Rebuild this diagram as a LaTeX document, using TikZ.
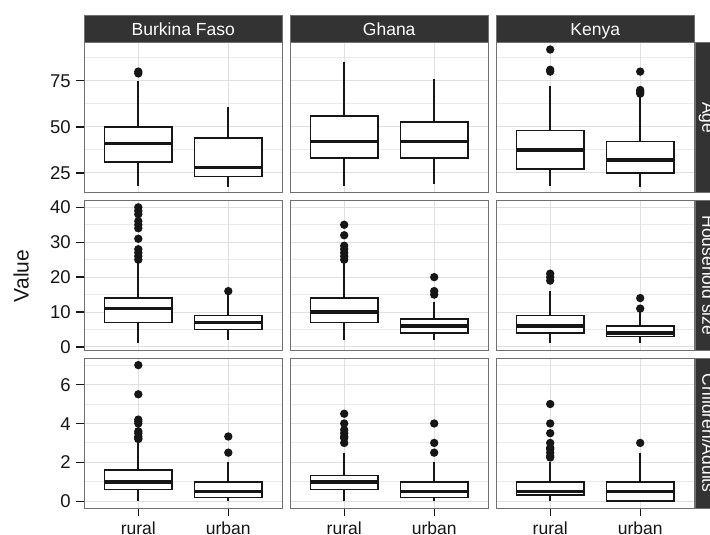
\documentclass[tikz,border=0pt]{standalone}
\usepackage{fontspec}
\setmainfont{Liberation Sans}
\definecolor{stripbg}{HTML}{333333}
\definecolor{bordc}{HTML}{707070}
\definecolor{gmaj}{HTML}{E0E0E0}
\definecolor{gmin}{HTML}{EAEAEA}
\definecolor{inkc}{HTML}{161616}
\tikzset{
  whisk/.style={line width=1.7pt, draw=inkc},
  boxst/.style={line width=1.7pt, draw=inkc, fill=white},
  medst/.style={line width=3.4pt, draw=inkc},
  outl/.style={fill=inkc},
  gminor/.style={draw=gmin, line width=1pt},
  gmajor/.style={draw=gmaj, line width=1pt},
  pborder/.style={draw=bordc, line width=1.1pt},
  tickst/.style={draw=inkc, line width=1.4pt},
  stripbox/.style={fill=stripbg, draw=bordc, line width=0.8pt},
  striptext/.style={text=white, font=\fontsize{17.5}{20}\selectfont, inner sep=0pt, text height=12.5pt, text depth=0pt},
  ylab/.style={text=inkc, font=\fontsize{18.5}{20}\selectfont, inner sep=0pt, anchor=east, text height=13.2pt, text depth=0pt},
  xlab/.style={text=inkc, font=\fontsize{17.5}{20}\selectfont, inner sep=0pt, anchor=base},
  axtitle/.style={text=inkc, font=\fontsize{21}{24}\selectfont, inner sep=0pt, text height=15pt, text depth=0pt},
}
% box: u, lower whisker, q1, median, q3, upper whisker
\newcommand\bxp[6]{%
  \draw[whisk] (#1,#2) -- (#1,#3) (#1,#5) -- (#1,#6);
  \draw[boxst] ({#1-0.375},#3) rectangle ({#1+0.375},#5);
  \draw[medst] ({#1-0.375},#4) -- ({#1+0.375},#4);}
\newcommand\outs[2]{\foreach \o in {#2} {\fill[outl] (#1,\o) circle[radius=4.2pt];}}
% panel: L, T, lo, hi, majors, minors, body
\newcommand\panel[7]{%
  \pgfmathsetmacro\sc{149.8/(#4-(#3))}%
  \pgfmathsetmacro\shy{#2+(#4)*\sc}%
  \pgfmathsetmacro\shx{#1-36}%
  \begin{scope}[shift={(\shx,\shy)},x=90pt,y=\sc pt]
    \foreach \g in {#6} {\draw[gminor] (0.4,\g) -- (2.6,\g);}
    \foreach \g in {#5} {\draw[gmajor] (0.4,\g) -- (2.6,\g);}
    \foreach \g in {1,2} {\draw[gmajor] (\g,#3) -- (\g,#4);}
    #7
    \draw[pborder] (0.4,#3) rectangle (2.6,#4);
  \end{scope}}
\begin{document}
\begin{tikzpicture}[x=1pt,y=-1pt]
\useasboundingbox (0,0) rectangle (710,535);
\clip (0,0) rectangle (710,535);

% ---------- row 1: Age ----------
\panel{84.3}{42.7}{14.3}{95.7}{25,50,75}{37.5,62.5,87.5}{%
  \bxp{1}{18}{31}{41}{50}{75}\outs{1}{79,80}
  \bxp{2}{17.5}{23}{28}{44}{61}
  \foreach \v in {25,50,75} {\draw[tickst] (0.4,\v) -- ++(-8pt,0);
    \node[ylab] (ya\v) at (0.4,\v) [xshift=-13.5pt] {\v};}
}
\panel{290.2}{42.7}{14.3}{95.7}{25,50,75}{37.5,62.5,87.5}{%
  \bxp{1}{18}{33}{42}{56}{85}
  \bxp{2}{19}{33}{42}{52.5}{76}
}
\panel{496.2}{42.7}{14.3}{95.7}{25,50,75}{37.5,62.5,87.5}{%
  \bxp{1}{18}{27}{37.5}{48}{72}\outs{1}{80,81,92}
  \bxp{2}{17.5}{25}{32}{42}{67}\outs{2}{68,69,70,80}
}

% ---------- row 2: Household size ----------
\panel{84.3}{200.5}{-0.95}{41.95}{0,10,20,30,40}{5,15,25,35}{%
  \bxp{1}{1}{7}{11}{14}{24}\outs{1}{25,26,27,28,31,34,35,36,38,39,40}
  \bxp{2}{2}{5}{7}{9}{15}\outs{2}{16}
  \foreach \v in {0,10,20,30,40} {\draw[tickst] (0.4,\v) -- ++(-8pt,0);
    \node[ylab] (yh\v) at (0.4,\v) [xshift=-13.5pt] {\v};}
}
\panel{290.2}{200.5}{-0.95}{41.95}{0,10,20,30,40}{5,15,25,35}{%
  \bxp{1}{2}{7}{10}{14}{24}\outs{1}{25,26,27,28,29,32,35}
  \bxp{2}{2}{4}{6}{8}{13}\outs{2}{15,16,20}
}
\panel{496.2}{200.5}{-0.95}{41.95}{0,10,20,30,40}{5,15,25,35}{%
  \bxp{1}{1}{4}{6}{9}{16}\outs{1}{19,20,21}
  \bxp{2}{1}{3}{4}{6}{10}\outs{2}{11,14}
}

% ---------- row 3: Children/Adults ----------
\panel{84.3}{358.3}{-0.35}{7.35}{0,2,4,6}{1,3,5,7}{%
  \bxp{1}{0}{0.6}{1}{1.6}{3}\outs{1}{3.2,3.25,3.33,3.5,3.6,4,4.1,4.2,5.5,7}
  \bxp{2}{0}{0.2}{0.5}{1}{2}\outs{2}{2.5,3.33}
  \foreach \v in {0,2,4,6} {\draw[tickst] (0.4,\v) -- ++(-8pt,0);
    \node[ylab] (yc\v) at (0.4,\v) [xshift=-13.5pt] {\v};}
  \foreach \u/\t in {1/rural,2/urban} {\draw[tickst] (\u,-0.35) -- ++(0,-7.5pt);
    \node[xlab] (xa\t) at (\u,-0.35) [yshift=-26.5pt] {\t};}
}
\panel{290.2}{358.3}{-0.35}{7.35}{0,2,4,6}{1,3,5,7}{%
  \bxp{1}{0}{0.6}{1}{1.33}{2.5}\outs{1}{3,3.25,3.33,3.5,3.67,4,4.5}
  \bxp{2}{0}{0.2}{0.5}{1}{2}\outs{2}{2.5,3,4}
  \foreach \u/\t in {1/rural,2/urban} {\draw[tickst] (\u,-0.35) -- ++(0,-7.5pt);
    \node[xlab] (xb\t) at (\u,-0.35) [yshift=-26.5pt] {\t};}
}
\panel{496.2}{358.3}{-0.35}{7.35}{0,2,4,6}{1,3,5,7}{%
  \bxp{1}{0}{0.33}{0.5}{1}{2}\outs{1}{2.25,2.33,2.5,2.67,2.75,3,3.5,4,5}
  \bxp{2}{0}{0}{0.5}{1}{2.5}\outs{2}{3}
  \foreach \u/\t in {1/rural,2/urban} {\draw[tickst] (\u,-0.35) -- ++(0,-7.5pt);
    \node[xlab] (xc\t) at (\u,-0.35) [yshift=-26.5pt] {\t};}
}

% ---------- top strips ----------
\draw[stripbox] (84.3,15.7) rectangle (282.3,42.7);
\node[striptext] (sbf) at (183.3,29.4) {Burkina Faso};
\draw[stripbox] (290.2,15.7) rectangle (488.2,42.7);
\node[striptext] (sgh) at (389.2,29.4) {Ghana};
\draw[stripbox] (496.2,15.7) rectangle (694.2,42.7);
\node[striptext] (ske) at (595.2,29.4) {Kenya};

% ---------- right strips ----------
\draw[stripbox] (695.2,42.7) rectangle (722.2,192.5);
\node[striptext, rotate=-90] (sage) at (708.7,117.6) {Age};
\draw[stripbox] (695.2,200.5) rectangle (722.2,350.3);
\node[striptext, rotate=-90] (shh) at (708.7,275.4) {Household size};
\draw[stripbox] (695.2,358.3) rectangle (722.2,508.1);
\node[striptext, rotate=-90] (sca) at (708.7,433.2) {Children/Adults};

% ---------- axis title ----------
\node[axtitle, rotate=90] (vt) at (21,276) {Value};
\end{tikzpicture}
\end{document}
